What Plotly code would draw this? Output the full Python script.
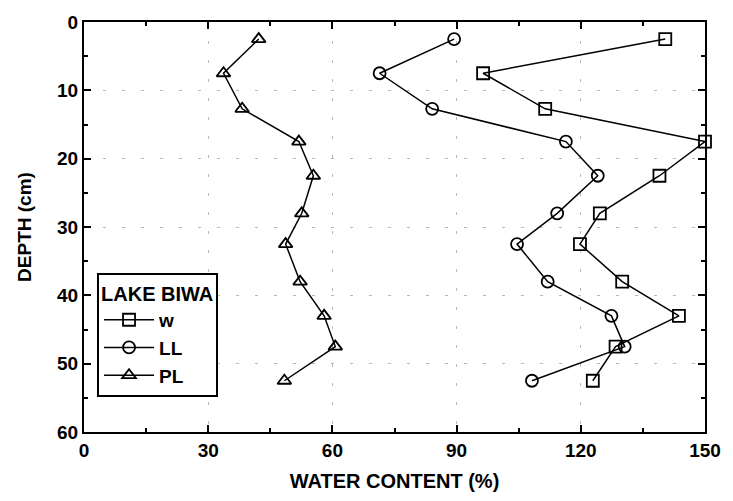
import plotly.graph_objects as go

depth = [2.5, 7.5, 12.7, 17.5, 22.5, 28, 32.5, 38, 43, 47.5, 52.5]
w_vals = [140.4, 96.4, 111.4, 150.0, 139, 124.6, 119.8, 130, 143.7, 128.4, 122.9]
ll_vals = [89.4, 71.4, 84.1, 116.4, 124.1, 114.3, 104.6, 112, 127.4, 130.6, 108.2]
pl_vals = [42.2, 33.7, 38.2, 51.9, 55.4, 52.6, 48.7, 52.2, 58, 60.7, 48.4]

series = [("w", w_vals, "square-open"), ("LL", ll_vals, "circle-open"), ("PL", pl_vals, "triangle-up-open")]

FONT = "Liberation Sans, Arial, sans-serif"
fig = go.Figure()
for name, vals, sym in series:
    fig.add_trace(go.Scatter(
        x=vals, y=depth, mode="lines+markers", name=name,
        line=dict(color="black", width=1.5),
        marker=dict(symbol=sym, size=12, color="black", line=dict(width=1.8, color="black")),
        cliponaxis=False,
    ))

axis_common = dict(
    showline=True, linecolor="black", linewidth=2, mirror="allticks",
    ticks="inside", ticklen=7, tickwidth=1.5, tickcolor="black",
    showgrid=True, gridcolor="#b8b8b8", gridwidth=1, griddash="3px,16px",
    zeroline=False,
    tickfont=dict(family=FONT, size=19, color="black", weight="bold"),
    minor=dict(ticks="inside", ticklen=4, tickcolor="black", showgrid=False),
)

fig.update_xaxes(range=[0, 150], dtick=30, minor_dtick=15,
                 title=dict(text="<b>WATER CONTENT (%)</b>", font=dict(family=FONT, size=20, color="black"), standoff=14),
                 **axis_common)
fig.update_yaxes(range=[60, 0], dtick=10, minor_dtick=5,
                 title=dict(text="<b>DEPTH (cm)</b>", font=dict(family=FONT, size=19, color="black"), standoff=20),
                 **axis_common)

fig.update_layout(
    width=733, height=501,
    margin=dict(l=84, r=24, t=17, b=69),
    paper_bgcolor="white", plot_bgcolor="white",
    font=dict(family=FONT, color="black"),
    legend=dict(
        title=dict(text="<b>LAKE BIWA</b>", font=dict(family=FONT, size=20, color="black")),
        x=0.021, y=0.388, xanchor="left", yanchor="top",
        bordercolor="black", borderwidth=2, bgcolor="white",
        font=dict(family=FONT, size=19, color="black", weight="bold"),
        itemwidth=50, tracegroupgap=0,
    ),
)

fig.write_html("out.html")
